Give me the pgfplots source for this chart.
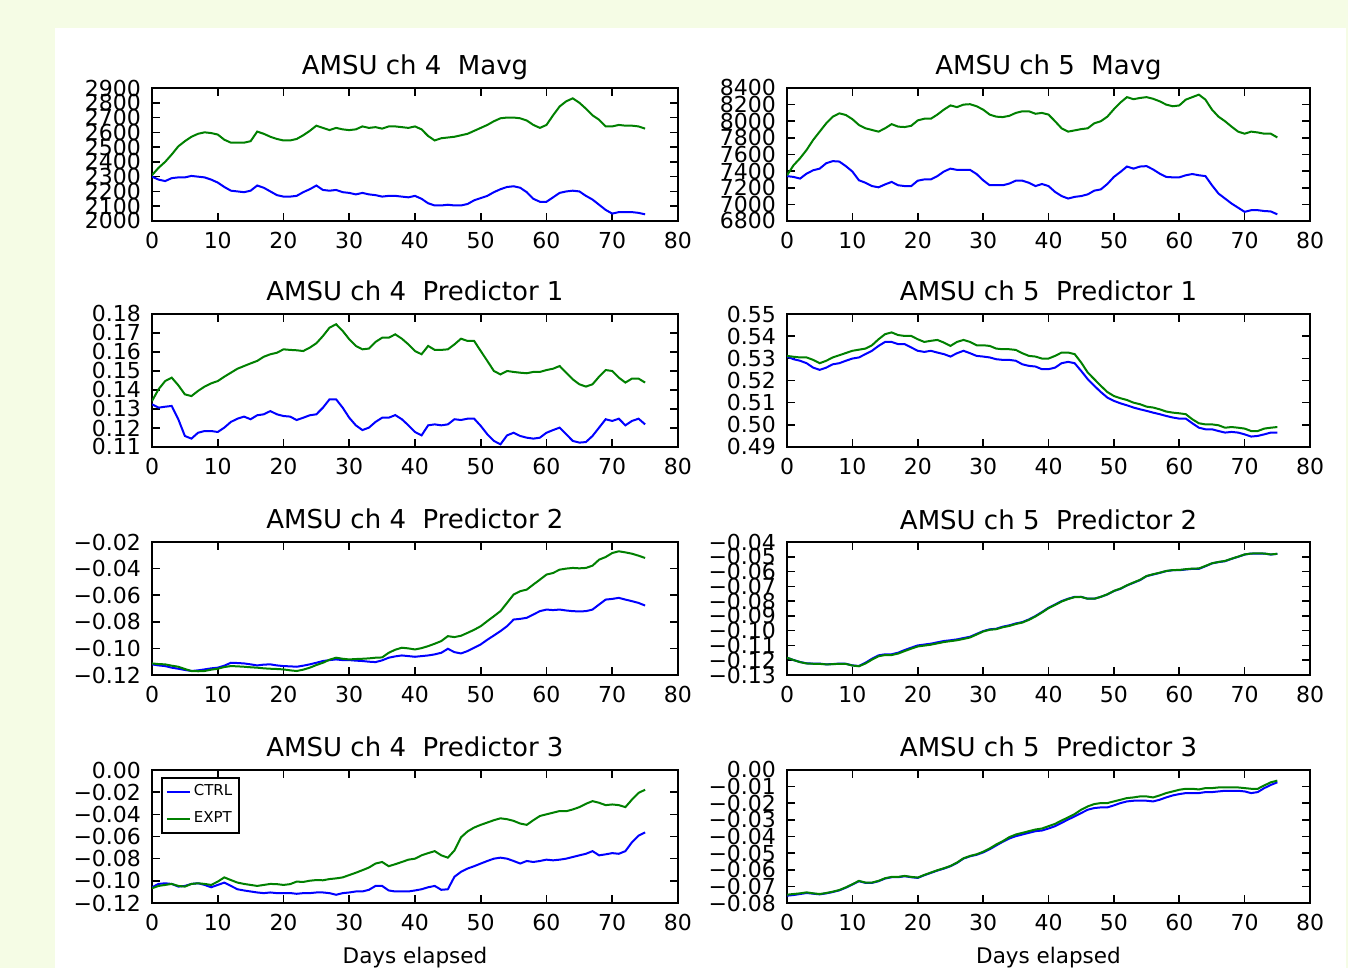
\documentclass[border=0pt]{standalone}
\usepackage{fontspec}
\setmainfont{DejaVu Sans}
\usepackage{pgfplots}
\pgfplotsset{compat=1.18}
\usepackage{pgfplotstable}
\definecolor{bgc}{RGB}{245,252,229}
\definecolor{mplblue}{RGB}{0,0,255}
\definecolor{mplgreen}{RGB}{0,128,0}

\pgfplotstableread{
x ctrl expt
0 2300 2310
1 2280 2360
2 2270 2400
3 2290 2450
4 2295 2505
5 2295 2540
6 2305 2570
7 2300 2590
8 2295 2600
9 2280 2595
10 2260 2585
11 2230 2550
12 2205 2530
13 2200 2530
14 2195 2530
15 2205 2540
16 2240 2605
17 2225 2590
18 2200 2570
19 2175 2555
20 2165 2545
21 2165 2545
22 2170 2555
23 2195 2580
24 2215 2610
25 2240 2645
26 2210 2630
27 2205 2615
28 2210 2630
29 2195 2620
30 2190 2615
31 2180 2620
32 2190 2640
33 2180 2630
34 2175 2635
35 2165 2625
36 2170 2640
37 2170 2640
38 2165 2635
39 2160 2630
40 2170 2640
41 2150 2620
42 2120 2575
43 2105 2545
44 2105 2560
45 2110 2565
46 2105 2570
47 2105 2580
48 2115 2590
49 2140 2610
50 2155 2630
51 2170 2650
52 2195 2675
53 2215 2695
54 2230 2700
55 2235 2700
56 2225 2695
57 2195 2680
58 2150 2650
59 2130 2630
60 2130 2650
61 2160 2715
62 2190 2775
63 2200 2810
64 2205 2830
65 2200 2800
66 2170 2760
67 2145 2715
68 2110 2685
69 2075 2640
70 2050 2640
71 2060 2650
72 2060 2645
73 2060 2645
74 2055 2640
75 2045 2625
}\tabA

\pgfplotstableread{
x ctrl expt
0 7340 7350
1 7330 7470
2 7310 7555
3 7370 7655
4 7410 7775
5 7430 7875
6 7495 7975
7 7520 8055
8 7515 8095
9 7460 8075
10 7395 8025
11 7290 7955
12 7260 7915
13 7220 7895
14 7205 7875
15 7240 7915
16 7270 7965
17 7230 7935
18 7220 7930
19 7220 7945
20 7285 8010
21 7300 8030
22 7300 8030
23 7340 8080
24 7395 8140
25 7430 8190
26 7415 8170
27 7415 8200
28 7415 8205
29 7365 8180
30 7290 8140
31 7230 8080
32 7230 8055
33 7230 8050
34 7250 8065
35 7285 8100
36 7285 8120
37 7260 8120
38 7220 8090
39 7245 8100
40 7220 8080
41 7150 8000
42 7100 7915
43 7070 7875
44 7090 7890
45 7100 7905
46 7120 7915
47 7165 7975
48 7180 8000
49 7245 8055
50 7330 8145
51 7390 8225
52 7455 8290
53 7430 8265
54 7455 8280
55 7460 8290
56 7420 8270
57 7370 8240
58 7330 8200
59 7325 8180
60 7325 8190
61 7350 8260
62 7365 8290
63 7350 8320
64 7340 8260
65 7230 8140
66 7130 8055
67 7070 8000
68 7010 7935
69 6960 7875
70 6910 7850
71 6930 7875
72 6930 7865
73 6920 7850
74 6915 7850
75 6880 7805
}\tabB

\pgfplotstableread{
x ctrl expt
0 0.1325 0.1342
1 0.1307 0.1404
2 0.1312 0.1447
3 0.1316 0.1465
4 0.1246 0.1425
5 0.1158 0.1377
6 0.1144 0.1368
7 0.1175 0.1395
8 0.1184 0.1418
9 0.1184 0.1435
10 0.1179 0.1447
11 0.1202 0.1470
12 0.1232 0.1491
13 0.1249 0.1512
14 0.1260 0.1526
15 0.1246 0.1540
16 0.1267 0.1553
17 0.1272 0.1575
18 0.1289 0.1588
19 0.1272 0.1596
20 0.1263 0.1614
21 0.1260 0.1611
22 0.1242 0.1609
23 0.1254 0.1605
24 0.1267 0.1623
25 0.1272 0.1646
26 0.1307 0.1684
27 0.1351 0.1728
28 0.1351 0.1746
29 0.1307 0.1711
30 0.1254 0.1667
31 0.1214 0.1632
32 0.1189 0.1614
33 0.1202 0.1618
34 0.1232 0.1653
35 0.1254 0.1675
36 0.1254 0.1675
37 0.1268 0.1693
38 0.1246 0.1670
39 0.1214 0.1640
40 0.1179 0.1605
41 0.1161 0.1588
42 0.1214 0.1632
43 0.1219 0.1611
44 0.1214 0.1611
45 0.1219 0.1614
46 0.1246 0.1640
47 0.1242 0.1670
48 0.1249 0.1658
49 0.1249 0.1658
50 0.1211 0.1605
51 0.1167 0.1553
52 0.1132 0.1500
53 0.1114 0.1482
54 0.1161 0.1500
55 0.1175 0.1495
56 0.1158 0.1491
57 0.1149 0.1488
58 0.1144 0.1495
59 0.1149 0.1495
60 0.1175 0.1505
61 0.1189 0.1512
62 0.1202 0.1526
63 0.1167 0.1491
64 0.1132 0.1456
65 0.1123 0.1430
66 0.1126 0.1418
67 0.1158 0.1430
68 0.1202 0.1470
69 0.1246 0.1505
70 0.1237 0.1500
71 0.1249 0.1465
72 0.1214 0.1439
73 0.1237 0.1460
74 0.1249 0.1460
75 0.1219 0.1439
}\tabC

\pgfplotstableread{
x ctrl expt
0 0.5308 0.5311
1 0.5296 0.5307
2 0.5289 0.5304
3 0.5278 0.5304
4 0.5258 0.5293
5 0.5248 0.5278
6 0.5258 0.5289
7 0.5273 0.5304
8 0.5278 0.5314
9 0.5289 0.5324
10 0.5299 0.5334
11 0.5304 0.5339
12 0.5319 0.5344
13 0.5334 0.5359
14 0.5356 0.5386
15 0.5374 0.5409
16 0.5374 0.5417
17 0.5364 0.5405
18 0.5364 0.5401
19 0.5349 0.5401
20 0.5334 0.5386
21 0.5329 0.5374
22 0.5334 0.5379
23 0.5326 0.5383
24 0.5319 0.5371
25 0.5308 0.5356
26 0.5323 0.5374
27 0.5334 0.5383
28 0.5323 0.5374
29 0.5311 0.5359
30 0.5308 0.5359
31 0.5304 0.5356
32 0.5296 0.5344
33 0.5293 0.5341
34 0.5293 0.5341
35 0.5289 0.5338
36 0.5273 0.5323
37 0.5266 0.5311
38 0.5263 0.5308
39 0.5251 0.5299
40 0.5251 0.5299
41 0.5258 0.5311
42 0.5278 0.5326
43 0.5284 0.5326
44 0.5278 0.5319
45 0.5243 0.5281
46 0.5206 0.5236
47 0.5176 0.5206
48 0.5148 0.5176
49 0.5123 0.5148
50 0.5108 0.5130
51 0.5097 0.5120
52 0.5088 0.5112
53 0.5078 0.5100
54 0.5070 0.5093
55 0.5063 0.5082
56 0.5055 0.5078
57 0.5048 0.5070
58 0.5040 0.5060
59 0.5033 0.5055
60 0.5028 0.5052
61 0.5028 0.5048
62 0.5007 0.5025
63 0.4987 0.5007
64 0.4980 0.5002
65 0.4980 0.5002
66 0.4972 0.4998
67 0.4965 0.4987
68 0.4968 0.4990
69 0.4965 0.4987
70 0.4957 0.4983
71 0.4947 0.4972
72 0.4950 0.4972
73 0.4957 0.4983
74 0.4965 0.4987
75 0.4965 0.4990
}\tabD

\pgfplotstableread{
x ctrl expt
0 -0.1120 -0.1113
1 -0.1128 -0.1118
2 -0.1133 -0.1120
3 -0.1145 -0.1130
4 -0.1153 -0.1138
5 -0.1162 -0.1155
6 -0.1170 -0.1170
7 -0.1165 -0.1172
8 -0.1158 -0.1170
9 -0.1150 -0.1160
10 -0.1145 -0.1153
11 -0.1130 -0.1140
12 -0.1108 -0.1133
13 -0.1110 -0.1135
14 -0.1113 -0.1138
15 -0.1120 -0.1142
16 -0.1128 -0.1145
17 -0.1122 -0.1150
18 -0.1120 -0.1153
19 -0.1128 -0.1155
20 -0.1133 -0.1158
21 -0.1135 -0.1165
22 -0.1138 -0.1170
23 -0.1130 -0.1160
24 -0.1120 -0.1145
25 -0.1108 -0.1125
26 -0.1095 -0.1108
27 -0.1088 -0.1085
28 -0.1083 -0.1070
29 -0.1088 -0.1078
30 -0.1088 -0.1083
31 -0.1092 -0.1080
32 -0.1095 -0.1078
33 -0.1100 -0.1075
34 -0.1103 -0.1070
35 -0.1090 -0.1068
36 -0.1070 -0.1033
37 -0.1060 -0.1010
38 -0.1053 -0.0995
39 -0.1058 -0.1000
40 -0.1063 -0.1008
41 -0.1058 -0.0998
42 -0.1053 -0.0983
43 -0.1045 -0.0965
44 -0.1033 -0.0945
45 -0.1003 -0.0908
46 -0.1028 -0.0915
47 -0.1038 -0.0905
48 -0.1020 -0.0883
49 -0.0995 -0.0860
50 -0.0970 -0.0833
51 -0.0935 -0.0795
52 -0.0903 -0.0758
53 -0.0870 -0.0720
54 -0.0833 -0.0658
55 -0.0783 -0.0595
56 -0.0778 -0.0570
57 -0.0770 -0.0558
58 -0.0745 -0.0520
59 -0.0720 -0.0483
60 -0.0708 -0.0445
61 -0.0712 -0.0433
62 -0.0708 -0.0408
63 -0.0715 -0.0400
64 -0.0720 -0.0395
65 -0.0722 -0.0398
66 -0.0720 -0.0395
67 -0.0708 -0.0378
68 -0.0670 -0.0333
69 -0.0633 -0.0313
70 -0.0628 -0.0283
71 -0.0620 -0.0270
72 -0.0633 -0.0278
73 -0.0645 -0.0288
74 -0.0658 -0.0303
75 -0.0678 -0.0320
}\tabE

\pgfplotstableread{
x ctrl expt
0 -0.1183 -0.1183
1 -0.1199 -0.1199
2 -0.1212 -0.1213
3 -0.1221 -0.1222
4 -0.1223 -0.1224
5 -0.1223 -0.1225
6 -0.1228 -0.1228
7 -0.1226 -0.1227
8 -0.1223 -0.1224
9 -0.1224 -0.1225
10 -0.1235 -0.1236
11 -0.1239 -0.1241
12 -0.1217 -0.1222
13 -0.1190 -0.1196
14 -0.1167 -0.1173
15 -0.1160 -0.1165
16 -0.1160 -0.1165
17 -0.1149 -0.1155
18 -0.1131 -0.1138
19 -0.1115 -0.1122
20 -0.1100 -0.1107
21 -0.1094 -0.1101
22 -0.1088 -0.1095
23 -0.1079 -0.1086
24 -0.1070 -0.1077
25 -0.1065 -0.1071
26 -0.1059 -0.1065
27 -0.1050 -0.1056
28 -0.1041 -0.1046
29 -0.1022 -0.1026
30 -0.1003 -0.1006
31 -0.0991 -0.0994
32 -0.0987 -0.0990
33 -0.0973 -0.0977
34 -0.0964 -0.0968
35 -0.0951 -0.0955
36 -0.0942 -0.0945
37 -0.0924 -0.0927
38 -0.0901 -0.0904
39 -0.0874 -0.0877
40 -0.0845 -0.0848
41 -0.0823 -0.0826
42 -0.0800 -0.0803
43 -0.0784 -0.0786
44 -0.0771 -0.0773
45 -0.0771 -0.0772
46 -0.0784 -0.0784
47 -0.0784 -0.0784
48 -0.0771 -0.0771
49 -0.0755 -0.0754
50 -0.0732 -0.0731
51 -0.0717 -0.0715
52 -0.0694 -0.0693
53 -0.0676 -0.0674
54 -0.0658 -0.0656
55 -0.0631 -0.0630
56 -0.0620 -0.0618
57 -0.0609 -0.0608
58 -0.0597 -0.0596
59 -0.0591 -0.0590
60 -0.0591 -0.0589
61 -0.0586 -0.0584
62 -0.0582 -0.0580
63 -0.0582 -0.0579
64 -0.0564 -0.0562
65 -0.0545 -0.0544
66 -0.0536 -0.0535
67 -0.0530 -0.0528
68 -0.0514 -0.0513
69 -0.0500 -0.0499
70 -0.0485 -0.0484
71 -0.0478 -0.0478
72 -0.0478 -0.0477
73 -0.0478 -0.0478
74 -0.0485 -0.0484
75 -0.0480 -0.0480
}\tabF

\pgfplotstableread{
x ctrl expt
0 -0.1058 -0.1067
1 -0.1028 -0.1046
2 -0.1022 -0.1037
3 -0.1028 -0.1028
4 -0.1052 -0.1046
5 -0.1046 -0.1052
6 -0.1028 -0.1028
7 -0.1022 -0.1022
8 -0.1037 -0.1028
9 -0.1058 -0.1037
10 -0.1037 -0.1007
11 -0.1016 -0.0969
12 -0.1046 -0.0993
13 -0.1076 -0.1016
14 -0.1087 -0.1028
15 -0.1096 -0.1037
16 -0.1105 -0.1046
17 -0.1111 -0.1037
18 -0.1105 -0.1028
19 -0.1111 -0.1030
20 -0.1111 -0.1037
21 -0.1110 -0.1030
22 -0.1117 -0.1007
23 -0.1111 -0.1010
24 -0.1111 -0.0999
25 -0.1105 -0.0993
26 -0.1105 -0.0995
27 -0.1111 -0.0984
28 -0.1126 -0.0978
29 -0.1111 -0.0969
30 -0.1105 -0.0948
31 -0.1096 -0.0927
32 -0.1096 -0.0904
33 -0.1081 -0.0880
34 -0.1046 -0.0844
35 -0.1046 -0.0830
36 -0.1087 -0.0868
37 -0.1096 -0.0850
38 -0.1096 -0.0830
39 -0.1096 -0.0809
40 -0.1087 -0.0800
41 -0.1076 -0.0770
42 -0.1058 -0.0750
43 -0.1046 -0.0732
44 -0.1081 -0.0770
45 -0.1076 -0.0791
46 -0.0963 -0.0726
47 -0.0919 -0.0607
48 -0.0889 -0.0554
49 -0.0868 -0.0519
50 -0.0844 -0.0495
51 -0.0821 -0.0474
52 -0.0800 -0.0453
53 -0.0791 -0.0436
54 -0.0800 -0.0444
55 -0.0821 -0.0459
56 -0.0844 -0.0483
57 -0.0821 -0.0495
58 -0.0830 -0.0453
59 -0.0821 -0.0415
60 -0.0809 -0.0400
61 -0.0815 -0.0385
62 -0.0809 -0.0370
63 -0.0800 -0.0372
64 -0.0785 -0.0356
65 -0.0770 -0.0335
66 -0.0756 -0.0305
67 -0.0732 -0.0281
68 -0.0770 -0.0296
69 -0.0761 -0.0317
70 -0.0750 -0.0311
71 -0.0756 -0.0317
72 -0.0732 -0.0335
73 -0.0652 -0.0267
74 -0.0593 -0.0207
75 -0.0563 -0.0178
}\tabG

\pgfplotstableread{
x ctrl expt
0 -0.0756 -0.0750
1 -0.0752 -0.0746
2 -0.0746 -0.0742
3 -0.0740 -0.0736
4 -0.0744 -0.0742
5 -0.0748 -0.0746
6 -0.0742 -0.0740
7 -0.0734 -0.0732
8 -0.0724 -0.0722
9 -0.0708 -0.0706
10 -0.0689 -0.0687
11 -0.0669 -0.0667
12 -0.0679 -0.0677
13 -0.0679 -0.0677
14 -0.0669 -0.0667
15 -0.0653 -0.0651
16 -0.0645 -0.0643
17 -0.0645 -0.0643
18 -0.0639 -0.0637
19 -0.0645 -0.0643
20 -0.0649 -0.0647
21 -0.0633 -0.0631
22 -0.0619 -0.0617
23 -0.0605 -0.0603
24 -0.0593 -0.0591
25 -0.0579 -0.0577
26 -0.0559 -0.0557
27 -0.0533 -0.0531
28 -0.0519 -0.0517
29 -0.0510 -0.0507
30 -0.0496 -0.0492
31 -0.0477 -0.0472
32 -0.0454 -0.0448
33 -0.0432 -0.0428
34 -0.0412 -0.0404
35 -0.0398 -0.0388
36 -0.0388 -0.0378
37 -0.0378 -0.0368
38 -0.0368 -0.0358
39 -0.0364 -0.0352
40 -0.0352 -0.0338
41 -0.0338 -0.0324
42 -0.0318 -0.0304
43 -0.0298 -0.0285
44 -0.0279 -0.0265
45 -0.0259 -0.0239
46 -0.0239 -0.0219
47 -0.0229 -0.0205
48 -0.0225 -0.0199
49 -0.0225 -0.0199
50 -0.0213 -0.0189
51 -0.0199 -0.0179
52 -0.0189 -0.0169
53 -0.0185 -0.0165
54 -0.0185 -0.0159
55 -0.0185 -0.0159
56 -0.0189 -0.0165
57 -0.0179 -0.0153
58 -0.0165 -0.0139
59 -0.0153 -0.0129
60 -0.0145 -0.0119
61 -0.0139 -0.0113
62 -0.0139 -0.0113
63 -0.0139 -0.0117
64 -0.0133 -0.0109
65 -0.0133 -0.0109
66 -0.0129 -0.0105
67 -0.0125 -0.0105
68 -0.0125 -0.0105
69 -0.0125 -0.0105
70 -0.0129 -0.0109
71 -0.0139 -0.0113
72 -0.0133 -0.0113
73 -0.0109 -0.0093
74 -0.0090 -0.0074
75 -0.0074 -0.0064
}\tabH

\pgfplotsset{
  panel/.style={
    scale only axis, width=263pt, height=66.5pt,
    anchor=south west,
    xmin=0, xmax=80, xtick={0,10,...,80},
    tick align=inside, tick pos=both,
    major tick length=4pt,
    every tick/.style={black, line width=0.8pt},
    axis line style={line width=0.9pt},
    ticklabel style={font=\fontsize{11}{12}\selectfont},
    /pgf/number format/assume math mode=true,
    title style={font=\fontsize{13}{15}\selectfont, at={(0.5,1)}, anchor=base, yshift=0.5pt},
    xticklabel style={yshift=-2pt},
    yticklabel style={xshift=-2pt},
    scaled ticks=false,
    legend image code/.code={\draw[##1] (0pt,0pt) -- (11.5pt,0pt);},
  },
  ctrl/.style={mplblue, line width=1pt},
  expt/.style={mplgreen, line width=1pt},
  daylabel/.style={xlabel={Days elapsed},
    xlabel style={font=\fontsize{10.75}{12}\selectfont, at={(axis description cs:0.5,0)}, anchor=base, yshift=-30.5pt}},
}

\begin{document}
\begin{tikzpicture}
\path[use as bounding box, fill=bgc] (0pt,0pt) rectangle (674pt,484pt);
\fill[white] (27.5pt,0pt) rectangle (673pt,470pt);

% Row 1
\begin{axis}[panel, at={(76pt,373.5pt)}, title={AMSU ch 4\ \ Mavg},
  ymin=2000, ymax=2900, ytick={2000,2100,...,2900},
  yticklabels={2000,2100,2200,2300,2400,2500,2600,2700,2800,2900}]
\addplot[ctrl] table[x=x,y=ctrl] {\tabA};
\addplot[expt] table[x=x,y=expt] {\tabA};
\end{axis}
\begin{axis}[panel, width=261.5pt, at={(393.5pt,373.5pt)}, title={AMSU ch 5\ \ Mavg},
  ymin=6800, ymax=8400, ytick={6800,7000,...,8400},
  yticklabels={6800,7000,7200,7400,7600,7800,8000,8200,8400}]
\addplot[ctrl] table[x=x,y=ctrl] {\tabB};
\addplot[expt] table[x=x,y=expt] {\tabB};
\end{axis}

% Row 2
\begin{axis}[panel, at={(76pt,260.5pt)}, title={AMSU ch 4\ \ Predictor 1},
  ymin=0.11, ymax=0.18, ytick={0.11,0.12,0.13,0.14,0.15,0.16,0.17,0.18},
  yticklabels={0.11,0.12,0.13,0.14,0.15,0.16,0.17,0.18}]
\addplot[ctrl] table[x=x,y=ctrl] {\tabC};
\addplot[expt] table[x=x,y=expt] {\tabC};
\end{axis}
\begin{axis}[panel, width=261.5pt, at={(393.5pt,260.5pt)}, title={AMSU ch 5\ \ Predictor 1},
  ymin=0.49, ymax=0.55, ytick={0.49,0.50,0.51,0.52,0.53,0.54,0.55},
  yticklabels={0.49,0.50,0.51,0.52,0.53,0.54,0.55}]
\addplot[ctrl] table[x=x,y=ctrl] {\tabD};
\addplot[expt] table[x=x,y=expt] {\tabD};
\end{axis}

% Row 3
\begin{axis}[panel, at={(76pt,146.5pt)}, title={AMSU ch 4\ \ Predictor 2},
  ymin=-0.12, ymax=-0.02, ytick={-0.12,-0.10,-0.08,-0.06,-0.04,-0.02},
  yticklabels={−0.12,−0.10,−0.08,−0.06,−0.04,−0.02}]
\addplot[ctrl] table[x=x,y=ctrl] {\tabE};
\addplot[expt] table[x=x,y=expt] {\tabE};
\end{axis}
\begin{axis}[panel, width=261.5pt, at={(393.5pt,146.5pt)}, title={AMSU ch 5\ \ Predictor 2},
  ymin=-0.13, ymax=-0.04, ytick={-0.13,-0.12,-0.11,-0.10,-0.09,-0.08,-0.07,-0.06,-0.05,-0.04},
  yticklabels={−0.13,−0.12,−0.11,−0.10,−0.09,−0.08,−0.07,−0.06,−0.05,−0.04}]
\addplot[ctrl] table[x=x,y=ctrl] {\tabF};
\addplot[expt] table[x=x,y=expt] {\tabF};
\end{axis}

% Row 4
\begin{axis}[panel, daylabel, at={(76pt,32.5pt)}, title={AMSU ch 4\ \ Predictor 3},
  ymin=-0.12, ymax=0, ytick={-0.12,-0.10,-0.08,-0.06,-0.04,-0.02,0},
  yticklabels={−0.12,−0.10,−0.08,−0.06,−0.04,−0.02,0.00},
  legend style={at={(0,1)}, anchor=north west, xshift=4.5pt, yshift=-3.5pt,
    font=\fontsize{7.5}{9}\selectfont, draw=black, line width=0.8pt,
    inner xsep=2pt, inner ysep=2pt, row sep=3.5pt,
    nodes={inner sep=1.5pt}},
  legend cell align=left]
\addplot[ctrl] table[x=x,y=ctrl] {\tabG};
\addlegendentry{CTRL}
\addplot[expt] table[x=x,y=expt] {\tabG};
\addlegendentry{EXPT}
\end{axis}
\begin{axis}[panel, daylabel, width=261.5pt, at={(393.5pt,32.5pt)}, title={AMSU ch 5\ \ Predictor 3},
  ymin=-0.08, ymax=0, ytick={-0.08,-0.07,-0.06,-0.05,-0.04,-0.03,-0.02,-0.01,0},
  yticklabels={−0.08,−0.07,−0.06,−0.05,−0.04,−0.03,−0.02,−0.01,0.00}]
\addplot[ctrl] table[x=x,y=ctrl] {\tabH};
\addplot[expt] table[x=x,y=expt] {\tabH};
\end{axis}
\end{tikzpicture}
\end{document}
